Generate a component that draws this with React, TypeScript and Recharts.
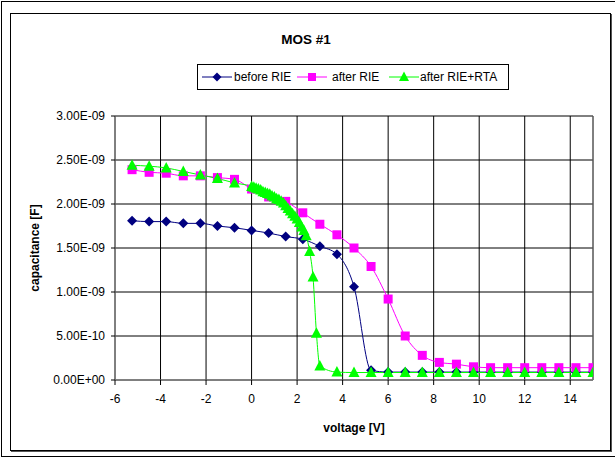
import React from "react";
import {
  LineChart,
  Line,
  XAxis,
  YAxis,
  CartesianGrid,
  Legend,
  Label,
  ReferenceLine,
} from "recharts";

// voltages [V] and capacitance in units of 1e-9 F
const beforeV = [
  -5.25, -4.5, -3.75, -3.0, -2.25, -1.5, -0.75, 0, 0.75, 1.5, 2.25, 3.0, 3.75, 4.5,
  5.25, 6.0, 6.75, 7.5, 8.25, 9.0, 9.75, 10.5, 11.25, 12.0, 12.75, 13.5, 14.25, 15.0,
];
const beforeC = [
  1.81, 1.8, 1.8, 1.78, 1.78, 1.75, 1.73, 1.7, 1.67, 1.63, 1.6, 1.52, 1.43, 1.06,
  0.11, 0.09, 0.09, 0.09, 0.09, 0.09, 0.09, 0.09, 0.09, 0.09, 0.09, 0.09, 0.09, 0.09,
];

const afterRieV = [
  -5.25, -4.5, -3.75, -3.0, -2.25, -1.5, -0.75, 0, 0.75, 1.5, 2.25, 3.0, 3.75, 4.5,
  5.25, 6.0, 6.75, 7.5, 8.25, 9.0, 9.75, 10.5, 11.25, 12.0, 12.75, 13.5, 14.25, 15.0,
];
const afterRieC = [
  2.39, 2.36, 2.35, 2.32, 2.32, 2.3, 2.28, 2.17, 2.08, 2.03, 1.9, 1.77, 1.65, 1.5,
  1.29, 0.92, 0.5, 0.28, 0.2, 0.18, 0.15, 0.14, 0.14, 0.14, 0.14, 0.14, 0.14, 0.14,
];

const rtaV = [
  -5.25, -4.5, -3.75, -3.0, -2.25, -1.5, -0.75,
  0, 0.1, 0.2, 0.3, 0.4, 0.5, 0.6, 0.7, 0.8, 0.9, 1.0, 1.1, 1.2, 1.3, 1.4, 1.5,
  1.6, 1.7, 1.8, 1.9, 2.0, 2.1, 2.2, 2.3, 2.4, 2.55, 2.7, 2.85, 3.0,
  3.75, 4.5, 5.25, 6.0, 6.75, 7.5, 8.25, 9.0, 9.75, 10.5, 11.25, 12.0, 12.75, 13.5,
  14.25, 15.0,
];
const rtaC = [
  2.44, 2.43, 2.41, 2.37, 2.33, 2.29, 2.24,
  2.2, 2.19, 2.18, 2.17, 2.16, 2.14, 2.13, 2.12, 2.11, 2.09, 2.08, 2.06, 2.05, 2.03, 2.01, 1.98,
  1.95, 1.92, 1.89, 1.86, 1.83, 1.79, 1.74, 1.7, 1.64, 1.46, 1.17, 0.53, 0.16,
  0.09, 0.085, 0.085, 0.085, 0.085, 0.085, 0.085, 0.085, 0.085, 0.085, 0.085, 0.085, 0.085, 0.085,
  0.085, 0.085,
];

const xTicks = [-6, -4, -2, 0, 2, 4, 6, 8, 10, 12, 14];
const yTicks = [0, 0.5, 1.0, 1.5, 2.0, 2.5, 3.0];

const NAVY = "#000080";
const MAGENTA = "#ff00ff";
const GREEN = "#00ff00";
const FONT = '"Liberation Sans", Arial, sans-serif';

const toPoints = (xs: number[], ys: number[]) => xs.map((v, i) => ({ v, c: ys[i] }));

const formatCap = (v: number) => {
  if (v === 0) return "0.00E+00";
  if (v < 1) return `${(v * 10).toFixed(2)}E-10`;
  return `${v.toFixed(2)}E-09`;
};

const diamondPath = (cx: number, cy: number, r: number) =>
  `M${cx},${cy - r} L${cx + r},${cy} L${cx},${cy + r} L${cx - r},${cy} Z`;
const squarePath = (cx: number, cy: number, r: number) =>
  `M${cx - r},${cy - r} H${cx + r} V${cy + r} H${cx - r} Z`;
const trianglePath = (cx: number, cy: number, r: number) =>
  `M${cx},${cy - r - 0.5} L${cx + r},${cy + r - 1} L${cx - r},${cy + r - 1} Z`;

const makeDot = (shape: (cx: number, cy: number, r: number) => string, r: number, color: string) =>
  (props: any) => {
    const { cx, cy, index } = props;
    if (cx == null || cy == null) return <g key={`e-${index}`} />;
    return <path key={`d-${index}`} d={shape(cx, cy, r)} fill={color} stroke="none" />;
  };

const legendItems = [
  { name: "before RIE", color: NAVY, shape: diamondPath, r: 4.5, icon: 4, text: 36 },
  { name: "after RIE", color: MAGENTA, shape: squarePath, r: 4, icon: 99, text: 134 },
  { name: "after RIE+RTA", color: GREEN, shape: trianglePath, r: 5, icon: 191, text: 222 },
];

const renderLegend = () => (
  <div
    style={{
      position: "relative",
      width: 312,
      height: 26,
      border: "1px solid #000",
      boxSizing: "border-box",
      background: "#fff",
      fontFamily: FONT,
      fontSize: 12,
    }}
  >
    {legendItems.map((it) => (
      <React.Fragment key={it.name}>
        <svg
          width={30}
          height={14}
          style={{ position: "absolute", left: it.icon, top: 5 }}
        >
          <line x1={0} y1={7} x2={30} y2={7} stroke={it.color} strokeWidth={1} />
          <path d={it.shape(15, 7, it.r)} fill={it.color} />
        </svg>
        <span
          style={{
            position: "absolute",
            left: it.text,
            top: 5,
            lineHeight: "14px",
            color: "#000",
            whiteSpace: "nowrap",
          }}
        >
          {it.name}
        </span>
      </React.Fragment>
    ))}
  </div>
);

export default function App() {
  return (
    <div
      style={{
        position: "absolute",
        left: 0,
        top: 0,
        width: 615,
        height: 460,
        background: "#fff",
        fontFamily: FONT,
      }}
    >
      <div
        style={{
          position: "absolute",
          left: 1,
          top: 1,
          width: 614,
          height: 456,
          borderTop: "1px solid #000",
          borderLeft: "1px solid #000",
          borderBottom: "1px solid #000",
          boxSizing: "border-box",
        }}
      />
      <div
        style={{
          position: "absolute",
          left: 10,
          top: 13,
          width: 601,
          height: 438,
          border: "1px solid #000",
          boxShadow: "1px 1px 0 #555",
          boxSizing: "border-box",
        }}
      />
      <div
        style={{
          position: "absolute",
          left: 256,
          top: 32,
          width: 100,
          textAlign: "center",
          fontSize: 13.5,
          fontWeight: "bold",
          lineHeight: "16px",
          color: "#000",
        }}
      >
        MOS #1
      </div>
      <div style={{ position: "absolute", left: 0, top: 0 }}>
        <LineChart
          width={615}
          height={460}
          margin={{ top: 116, right: 22, bottom: 20, left: 0 }}
          style={{ fontFamily: FONT }}
        >
          <CartesianGrid stroke="#000" strokeWidth={1} />
          <XAxis
            type="number"
            dataKey="v"
            domain={[-6, 15]}
            ticks={xTicks}
            allowDataOverflow
            interval={0}
            height={60}
            tickSize={5}
            tickMargin={9}
            axisLine={{ stroke: "#808080" }}
            tickLine={{ stroke: "#000" }}
            tick={{ fill: "#000", fontSize: 12, fontFamily: FONT }}
          >
            <Label
              content={(p: any) => {
                const vb = p.viewBox || { x: 115, y: 380, width: 478, height: 60 };
                return (
                  <text
                    x={vb.x + vb.width / 2}
                    y={vb.y + 48}
                    textAnchor="middle"
                    dominantBaseline="central"
                    fontSize={12}
                    fontWeight="bold"
                    fontFamily={FONT}
                    fill="#000"
                  >
                    voltage [V]
                  </text>
                );
              }}
            />
          </XAxis>
          <YAxis
            type="number"
            domain={[0, 3]}
            ticks={yTicks}
            interval={0}
            width={115}
            tickSize={4}
            tickMargin={6}
            tickFormatter={formatCap}
            axisLine={{ stroke: "#808080" }}
            tickLine={{ stroke: "#000" }}
            tick={{ fill: "#000", fontSize: 12, fontFamily: FONT }}
          >
            <Label
              content={(p: any) => {
                const vb = p.viewBox || { x: 0, y: 116, width: 115, height: 264 };
                const cx = vb.x + 35;
                const cy = vb.y + vb.height / 2;
                return (
                  <text
                    x={cx}
                    y={cy}
                    transform={`rotate(-90 ${cx} ${cy})`}
                    textAnchor="middle"
                    dominantBaseline="central"
                    fontSize={12}
                    fontWeight="bold"
                    fontFamily={FONT}
                    fill="#000"
                  >
                    capacitance [F]
                  </text>
                );
              }}
            />
          </YAxis>
          <ReferenceLine x={15} stroke="#808080" ifOverflow="extendDomain" />
          <Legend
            verticalAlign="middle"
            align="center"
            layout="horizontal"
            wrapperStyle={{ left: 197, top: 64, width: 312, height: 26 }}
            content={renderLegend}
          />
          <Line
            data={toPoints(beforeV, beforeC)}
            dataKey="c"
            type="monotone"
            stroke={NAVY}
            strokeWidth={1}
            dot={makeDot(diamondPath, 5, NAVY)}
            activeDot={false}
            isAnimationActive={false}
          />
          <Line
            data={toPoints(afterRieV, afterRieC)}
            dataKey="c"
            type="monotone"
            stroke={MAGENTA}
            strokeWidth={1}
            dot={makeDot(squarePath, 4.5, MAGENTA)}
            activeDot={false}
            isAnimationActive={false}
          />
          <Line
            data={toPoints(rtaV, rtaC)}
            dataKey="c"
            type="monotone"
            stroke={GREEN}
            strokeWidth={1}
            dot={makeDot(trianglePath, 5.5, GREEN)}
            activeDot={false}
            isAnimationActive={false}
          />
        </LineChart>
      </div>
    </div>
  );
}
